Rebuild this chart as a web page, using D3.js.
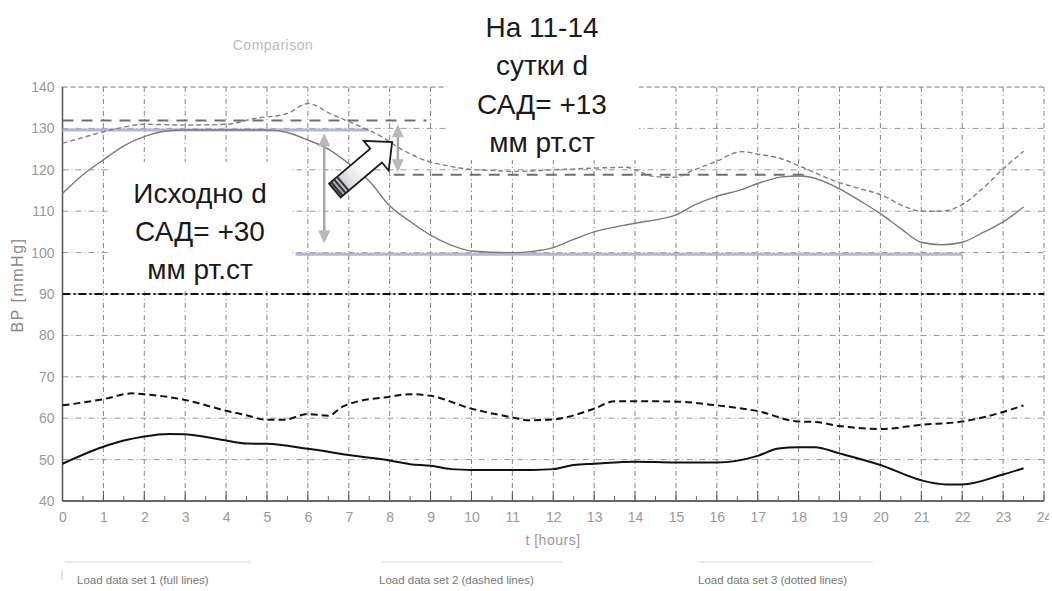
<!DOCTYPE html>
<html>
<head>
<meta charset="utf-8">
<script src="https://cdn.jsdelivr.net/npm/d3@7"></script>
<style>
  body { margin: 0; background: #fff; }
  svg { display: block; font-family: "Liberation Sans", Arial, sans-serif; }
</style>
</head>
<body>
<div id="chart"></div>
<script>

// data

const sys1Hours = [0, 0.5, 1, 1.5, 2, 2.5, 3, 4, 5, 5.5, 6, 6.5, 7, 7.5, 8, 8.5, 9, 9.5, 10, 11, 11.5, 12, 12.5, 13, 14, 15, 15.5, 16, 16.6, 17, 17.6, 18, 18.3, 19, 19.5, 20, 20.5, 21, 21.5, 22, 22.5, 23, 23.5]
const sys1Values = [114.3, 118.8, 122.4, 125.8, 128, 129.3, 129.6, 129.6, 129.6, 129, 127.2, 125, 121.5, 117.3, 111.3, 107.5, 104.2, 101.8, 100.4, 100, 100.3, 101.2, 103.2, 105, 107.1, 109.1, 111.7, 113.6, 115.2, 116.7, 118.3, 118.5, 118.2, 115.4, 112.5, 109.4, 105.8, 102.5, 101.9, 102.5, 104.8, 107.4, 111]

const sys2Hours = [0, 0.5, 1, 1.5, 2, 3, 4, 4.7, 5.5, 6, 6.6, 7.3, 7.8, 8.25, 8.75, 9.4, 9.9, 10.6, 11, 12, 13, 13.8, 14, 14.45, 14.95, 15.45, 16, 16.6, 17, 17.6, 18, 19, 19.4, 20, 20.6, 21, 21.5, 22, 22.5, 23, 23.5]
const sys2Values = [126.4, 127.8, 129.2, 130.3, 131, 130.8, 131, 132.4, 133.6, 136, 133.3, 130.4, 128, 125.2, 122.7, 121, 120.2, 119.8, 119.6, 120, 120.4, 120.6, 120, 118.4, 118.2, 120, 122.1, 124.4, 123.8, 122.6, 121, 116.9, 115.7, 114, 111.1, 110, 110, 111.6, 115.5, 120.2, 124.5]

const dia1Hours = [0, 1, 1.5, 2, 2.6, 3, 4, 4.5, 5, 6, 6.5, 7, 8, 8.5, 9, 9.5, 10, 11, 11.5, 12, 12.5, 13, 14, 15, 16, 17, 17.5, 18, 18.4, 19, 20, 21, 21.6, 22, 23, 23.5]
const dia1Values = [49, 53.1, 54.6, 55.6, 56.2, 56.1, 54.6, 53.9, 53.8, 52.6, 51.9, 51.1, 49.8, 48.9, 48.5, 47.7, 47.5, 47.5, 47.5, 47.7, 48.7, 49, 49.5, 49.3, 49.3, 50.9, 52.7, 53, 53, 51.5, 48.7, 45, 44, 44, 46.4, 47.9]

const dia2Hours = [0, 1, 1.7, 2, 3, 4, 4.5, 5, 5.4, 6, 6.5, 6.85, 7, 8, 8.5, 9, 10, 11, 11.4, 12, 13, 13.5, 14, 15, 16, 17, 18, 18.4, 19, 20, 21, 22, 23, 23.5]
const dia2Values = [63.1, 64.6, 66, 65.8, 64.4, 61.8, 60.7, 59.6, 59.6, 61, 60.6, 62.8, 63.4, 65.2, 65.8, 65.4, 62.3, 60.2, 59.5, 59.7, 62.3, 64.1, 64.1, 64, 63.1, 61.7, 59.2, 59.1, 58.1, 57.4, 58.4, 59.2, 61.5, 63.1]

// reference levels: [value, from hour, to hour]
const blueLevels = [[129.6, 0, 7.5], [99.6, 5.7, 22]]
const meanLevels = [[131.9, 0, 8.9], [118.8, 8.1, 18.3]]
const thresholdLevel = 90

// double arrows: [hour, top value, bottom value]
const deltaArrows = [[6.4, 128.8, 102.2], [8.2, 131, 119.4]]

const xTickValues = d3.range(0, 25)
const yTickValues = d3.range(40, 141, 10)
const legendLabels = ["Load data set 1 (full lines)", "Load data set 2 (dashed lines)", "Load data set 3 (dotted lines)"]
const noteLeft = ["Исходно d", "САД= +30", "мм рт.ст"]
const noteRight = ["На 11-14", "сутки d", "САД= +13", "мм рт.ст"]

// constants

const width = 1052
const height = 591
const margin = {top: 87, bottom: 90, left: 62.5, right: 8}

const xScale = d3.scaleLinear()
  .domain([0, 24])
  .range([margin.left, width - margin.right])

const yScale = d3.scaleLinear()
  .domain([40, 140])
  .range([height - margin.bottom, margin.top])

const zip = (a, b) => a.map((d, i) => [d, b[i]])

const svg = d3.select("#chart")
  .append("svg")
  .attr("width", width)
  .attr("height", height)

// grid

const grid = svg.append("g").attr("class", "grid")

grid.selectAll(".vgrid")
  .data(xTickValues.slice(1))
  .join("line")
  .attr("class", "vgrid")
  .attr("x1", d => xScale(d))
  .attr("x2", d => xScale(d))
  .attr("y1", yScale(140))
  .attr("y2", yScale(40))
  .attr("stroke", "#858585")
  .attr("stroke-width", 1)
  .attr("stroke-dasharray", "5,3,1,3")

grid.selectAll(".hgrid")
  .data(yTickValues.filter(d => d > 40 && d < 140))
  .join("line")
  .attr("class", "hgrid")
  .attr("x1", xScale(0))
  .attr("x2", xScale(24))
  .attr("y1", d => yScale(d))
  .attr("y2", d => yScale(d))
  .attr("stroke", "#959595")
  .attr("stroke-width", 1)
  .attr("stroke-dasharray", "6,3,1,3")

grid.append("line")
  .attr("x1", xScale(0))
  .attr("x2", xScale(24))
  .attr("y1", yScale(140))
  .attr("y2", yScale(140))
  .attr("stroke", "#777")
  .attr("stroke-width", 1)
  .attr("stroke-dasharray", "5,3")

// white boxes behind the notes

svg.append("rect")
  .attr("x", 110).attr("y", 162)
  .attr("width", 182).attr("height", 128)
  .attr("fill", "#fff")

svg.append("rect")
  .attr("x", 447).attr("y", 0)
  .attr("width", 192).attr("height", 160)
  .attr("fill", "#fff")

// axes

svg.append("line")
  .attr("x1", xScale(0)).attr("x2", xScale(0))
  .attr("y1", yScale(140)).attr("y2", yScale(40))
  .attr("stroke", "#555").attr("stroke-width", 1.5)

svg.append("line")
  .attr("x1", xScale(0)).attr("x2", xScale(24))
  .attr("y1", yScale(40)).attr("y2", yScale(40))
  .attr("stroke", "#333").attr("stroke-width", 1.6)

svg.selectAll(".minor")
  .data(d3.range(0.5, 24, 1))
  .join("line")
  .attr("class", "minor")
  .attr("x1", d => xScale(d)).attr("x2", d => xScale(d))
  .attr("y1", yScale(40)).attr("y2", yScale(40) - 5)
  .attr("stroke", "#666")

svg.selectAll(".major")
  .data(xTickValues)
  .join("line")
  .attr("class", "major")
  .attr("x1", d => xScale(d)).attr("x2", d => xScale(d))
  .attr("y1", yScale(40)).attr("y2", yScale(40) - 10)
  .attr("stroke", "#555")

svg.append("clipPath").attr("id", "clipx")
  .append("rect").attr("x", 0).attr("y", 0).attr("width", 1049).attr("height", height)

const xAxis = d3.axisBottom(xScale).tickValues(xTickValues).tickSize(0).tickPadding(11)
const yAxis = d3.axisLeft(yScale).tickValues(yTickValues).tickSize(0).tickPadding(8)

const xAxisGroup = svg.append("g")
  .attr("transform", `translate(0, ${yScale(40)})`)
  .attr("clip-path", "url(#clipx)")
  .call(xAxis)

const yAxisGroup = svg.append("g")
  .attr("transform", `translate(${xScale(0)}, 0)`)
  .call(yAxis)

for (const g of [xAxisGroup, yAxisGroup]) {
  g.select(".domain").remove()
  g.selectAll("text")
    .attr("fill", "#999")
    .attr("font-size", 14)
    .attr("font-family", "'Liberation Sans', Arial, sans-serif")
}

svg.append("text")
  .attr("x", 553).attr("y", 545)
  .attr("text-anchor", "middle")
  .attr("font-size", 14)
  .attr("letter-spacing", 0.5)
  .attr("fill", "#999")
  .text("t [hours]")

svg.append("text")
  .attr("transform", `translate(23, 285) rotate(-90)`)
  .attr("text-anchor", "middle")
  .attr("font-size", 16)
  .attr("letter-spacing", 1.5)
  .attr("fill", "#888")
  .text("BP [mmHg]")

svg.append("text")
  .attr("x", 273).attr("y", 50)
  .attr("text-anchor", "middle")
  .attr("font-size", 14)
  .attr("letter-spacing", 0.5)
  .attr("fill", "#bbb")
  .text("Comparison")

// reference lines

svg.selectAll(".blue")
  .data(blueLevels)
  .join("line")
  .attr("class", "blue")
  .attr("x1", d => xScale(d[1])).attr("x2", d => xScale(d[2]))
  .attr("y1", d => yScale(d[0])).attr("y2", d => yScale(d[0]))
  .attr("stroke", "#b4b6d6")
  .attr("stroke-width", 3)

svg.selectAll(".mean")
  .data(meanLevels)
  .join("line")
  .attr("class", "mean")
  .attr("x1", d => xScale(d[1])).attr("x2", d => xScale(d[2]))
  .attr("y1", d => yScale(d[0])).attr("y2", d => yScale(d[0]))
  .attr("stroke", "#6f6f6f")
  .attr("stroke-width", 2)
  .attr("stroke-dasharray", "11,8")

svg.append("line")
  .attr("x1", xScale(0)).attr("x2", xScale(24))
  .attr("y1", yScale(thresholdLevel)).attr("y2", yScale(thresholdLevel))
  .attr("stroke", "#111")
  .attr("stroke-width", 2)
  .attr("stroke-dasharray", "8,3,2,3")

// curves

const lineGen = d3.line()
  .x(d => xScale(d[0]))
  .y(d => yScale(d[1]))
  .curve(d3.curveMonotoneX)

const series = [
  {data: zip(sys1Hours, sys1Values), color: "#7a7a7a", w: 1.4, dash: null},
  {data: zip(sys2Hours, sys2Values), color: "#808080", w: 1.4, dash: "5,3"},
  {data: zip(dia1Hours, dia1Values), color: "#111", w: 2, dash: null},
  {data: zip(dia2Hours, dia2Values), color: "#111", w: 2, dash: "7,4"}
]

svg.selectAll(".line")
  .data(series)
  .join("path")
  .attr("class", "line")
  .attr("fill", "none")
  .attr("stroke", d => d.color)
  .attr("stroke-width", d => d.w)
  .attr("stroke-dasharray", d => d.dash)
  .attr("d", d => lineGen(d.data))

// double arrows

const dArrows = svg.selectAll(".delta")
  .data(deltaArrows)
  .join("g")
  .attr("class", "delta")

dArrows.append("line")
  .attr("x1", d => xScale(d[0])).attr("x2", d => xScale(d[0]))
  .attr("y1", d => yScale(d[1]) + 10).attr("y2", d => yScale(d[2]) - 10)
  .attr("stroke", "#a8a8a8").attr("stroke-width", 2.5)

dArrows.append("path")
  .attr("fill", "#b8b8b8")
  .attr("d", d => {
    const x = xScale(d[0]), y1 = yScale(d[1]), y2 = yScale(d[2])
    return `M${x},${y1}L${x - 6},${y1 + 13}L${x + 6},${y1 + 13}Z` +
           `M${x},${y2}L${x - 6},${y2 - 13}L${x + 6},${y2 - 13}Z`
  })

// big block arrow

const tail = [xScale(6.66), yScale(115)]
const tip = [xScale(8.06), yScale(126.7)]
const len = Math.hypot(tip[0] - tail[0], tip[1] - tail[1])
const ang = Math.atan2(tip[1] - tail[1], tip[0] - tail[0]) * 180 / Math.PI

const defs = svg.append("defs")
const grad = defs.append("linearGradient")
  .attr("id", "tailGrad")
  .attr("gradientUnits", "userSpaceOnUse")
  .attr("x1", 0).attr("x2", 36).attr("y1", 0).attr("y2", 0)
grad.append("stop").attr("offset", 0).attr("stop-color", "#9a9a9a")
grad.append("stop").attr("offset", 0.4).attr("stop-color", "#d8d8e0")
grad.append("stop").attr("offset", 1).attr("stop-color", "#fff")

const big = svg.append("g")
  .attr("transform", `translate(${tail[0]}, ${tail[1]}) rotate(${ang})`)

const hl = 21, sw = 9, hw = 19.5
big.append("path")
  .attr("d", `M0,${-sw}L${len - hl},${-sw}L${len - hl},${-hw}L${len},0L${len - hl},${hw}L${len - hl},${sw}L0,${sw}Z`)
  .attr("fill", "url(#tailGrad)")
  .attr("stroke", "#1a1a1a")
  .attr("stroke-width", 1.8)
  .attr("stroke-linejoin", "miter")

big.selectAll(".ring")
  .data([2.5, 6.5, 10.5])
  .join("line")
  .attr("class", "ring")
  .attr("x1", d => d).attr("x2", d => d)
  .attr("y1", -sw).attr("y2", sw)
  .attr("stroke", "#333")
  .attr("stroke-width", 2)

// notes

const noteStyle = sel => sel
  .attr("text-anchor", "middle")
  .attr("font-size", 28)
  .attr("fill", "#1a1a1a")

svg.selectAll(".noteL")
  .data(noteLeft)
  .join("text")
  .attr("class", "noteL")
  .attr("x", 200)
  .attr("y", (d, i) => 203 + i * 38)
  .call(noteStyle)
  .text(d => d)

svg.selectAll(".noteR")
  .data(noteRight)
  .join("text")
  .attr("class", "noteR")
  .attr("x", 542)
  .attr("y", (d, i) => 37 + i * 38.3)
  .call(noteStyle)
  .text(d => d)

// legend buttons

const legendX = [[65, 251, 77], [382, 562, 379], [698, 873, 698]]

svg.selectAll(".legLine")
  .data(legendX)
  .join("line")
  .attr("class", "legLine")
  .attr("x1", d => d[0]).attr("x2", d => d[1])
  .attr("y1", 562).attr("y2", 562)
  .attr("stroke", "#d4d4d4")

svg.selectAll(".legText")
  .data(legendLabels)
  .join("text")
  .attr("class", "legText")
  .attr("x", (d, i) => legendX[i][2])
  .attr("y", 584)
  .attr("font-size", 11.5)
  .attr("fill", "#777")
  .text(d => d)

svg.append("line")
  .attr("x1", 62).attr("x2", 62)
  .attr("y1", 570).attr("y2", 580)
  .attr("stroke", "#ccc")

</script>
</body>
</html>
